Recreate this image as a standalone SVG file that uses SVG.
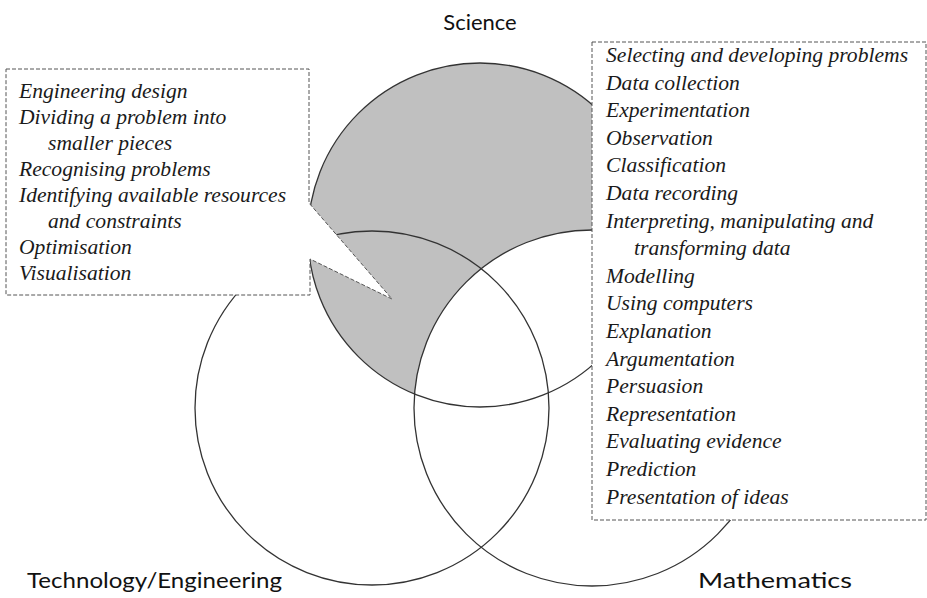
<svg xmlns="http://www.w3.org/2000/svg" width="927" height="598" viewBox="0 0 927 598">
<style>
.circ{fill:none;stroke:#333;stroke-width:1.3}
.box{fill:#fff;stroke:#555;stroke-width:1;stroke-dasharray:4 2}
.item{font-family:"Liberation Serif","Times New Roman",serif;font-style:italic;font-size:21.6px;fill:#1a1a1a}
.lbl{font-family:Lato,"Liberation Sans",sans-serif;font-size:22px;fill:#111}
</style>
<rect width="927" height="598" fill="#fff"/>
<g id="shading">
<circle cx="480" cy="235" r="172" fill="#c0c0c0"/>
<circle cx="592" cy="408" r="178" fill="#fff"/>
</g>
<g id="science"><circle class="circ" cx="480" cy="235" r="172"/><text class="lbl" x="480" y="30" text-anchor="middle">Science</text></g>
<g id="technology"><circle class="circ" cx="372" cy="408" r="177"/><text class="lbl" x="27" y="588" textLength="255" lengthAdjust="spacingAndGlyphs">Technology/Engineering</text></g>
<g id="mathematics"><circle class="circ" cx="592" cy="408" r="178"/><text class="lbl" x="698" y="588" textLength="154" lengthAdjust="spacingAndGlyphs">Mathematics</text></g>
<g id="left-box">
<path class="box" d="M6,69 H309 V203 L392,299 L310,259 V295 H6 Z"/>
<text class="item" x="19" y="98">Engineering design</text>
<text class="item" x="19" y="124">Dividing a problem into</text>
<text class="item" x="48" y="150">smaller pieces</text>
<text class="item" x="19" y="176">Recognising problems</text>
<text class="item" x="19" y="202">Identifying available resources</text>
<text class="item" x="48" y="228">and constraints</text>
<text class="item" x="19" y="254">Optimisation</text>
<text class="item" x="19" y="280">Visualisation</text>
</g>
<g id="right-box">
<rect class="box" x="592" y="42" width="334" height="478"/>
<text class="item" x="606" y="62">Selecting and developing problems</text>
<text class="item" x="606" y="89.6">Data collection</text>
<text class="item" x="606" y="117.2">Experimentation</text>
<text class="item" x="606" y="144.8">Observation</text>
<text class="item" x="606" y="172.4">Classification</text>
<text class="item" x="606" y="200">Data recording</text>
<text class="item" x="606" y="227.6">Interpreting, manipulating and</text>
<text class="item" x="634" y="255.2">transforming data</text>
<text class="item" x="606" y="282.8">Modelling</text>
<text class="item" x="606" y="310.4">Using computers</text>
<text class="item" x="606" y="338">Explanation</text>
<text class="item" x="606" y="365.6">Argumentation</text>
<text class="item" x="606" y="393.2">Persuasion</text>
<text class="item" x="606" y="420.8">Representation</text>
<text class="item" x="606" y="448.4">Evaluating evidence</text>
<text class="item" x="606" y="476">Prediction</text>
<text class="item" x="606" y="503.6">Presentation of ideas</text>
</g>
</svg>
